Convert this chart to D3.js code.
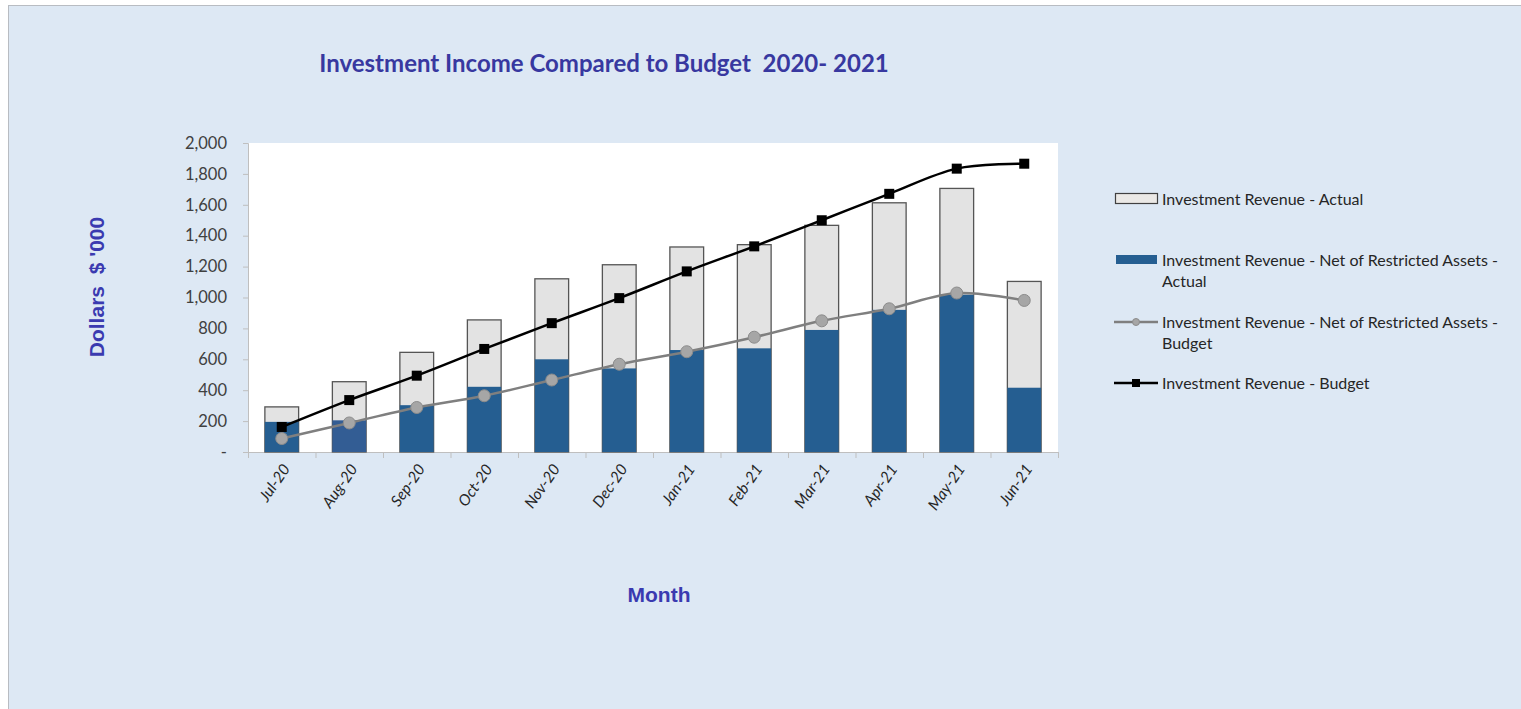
<!DOCTYPE html>
<html>
<head>
<meta charset="utf-8">
<script src="https://cdn.jsdelivr.net/npm/d3@7"></script>
<style>
	body { margin: 0; background: #ffffff; }
	text { font-family: Lato, "Open Sans", sans-serif; }
</style>
</head>
<body>
<div id="chart"></div>
<script>
// chart data
const months = ["Jul-20", "Aug-20", "Sep-20", "Oct-20", "Nov-20", "Dec-20",
	"Jan-21", "Feb-21", "Mar-21", "Apr-21", "May-21", "Jun-21"];
const revenueActual = [292, 455, 645, 855, 1121, 1212, 1327, 1342, 1467, 1613, 1706, 1104];
const netActual = [195, 205, 303, 422, 600, 541, 660, 671, 790, 920, 1018, 416];
const netBudget = [87, 188, 288, 364, 466, 568, 649, 743, 849, 927, 1029, 981];
const revenueBudget = [162, 336, 494, 667, 834, 996, 1169, 1331, 1500, 1671, 1834, 1866];
const yTicks = [0, 200, 400, 600, 800, 1000, 1200, 1400, 1600, 1800, 2000];
const legendLabels = [
	["Investment Revenue - Actual"],
	["Investment Revenue - Net of Restricted Assets -", "Actual"],
	["Investment Revenue - Net of Restricted Assets -", "Budget"],
	["Investment Revenue - Budget"]
];

const W = 1521, H = 709;
const plot = {left: 248, right: 1058, top: 143, bottom: 452};

let svg = d3.select("#chart").append("svg")
	.attr("width", W)
	.attr("height", H);

// background panel
svg.append("rect")
	.attr("x", 8.5).attr("y", 5.5)
	.attr("width", W + 10).attr("height", H + 10)
	.attr("fill", "#dde8f4")
	.attr("stroke", "#b8bcc2");

svg.append("rect")
	.attr("x", plot.left).attr("y", plot.top)
	.attr("width", plot.right - plot.left)
	.attr("height", plot.bottom - plot.top)
	.attr("fill", "#ffffff");

let xScale = d3.scaleBand()
	.domain(months)
	.range([plot.left, plot.right])
	.paddingInner(0.5)
	.paddingOuter(0.25);
let xBand = d3.scaleBand().domain(months).range([plot.left, plot.right]);
let yScale = d3.scaleLinear()
	.domain([0, 2000])
	.range([plot.bottom, plot.top]);

// y axis
let yAxis = d3.axisLeft(yScale)
	.tickValues(yTicks)
	.tickSize(5)
	.tickPadding(16)
	.tickFormat(d => d === 0 ? "-" : d3.format(",")(d));
let gy = svg.append("g")
	.attr("transform", `translate(${plot.left},0)`)
	.call(yAxis);
gy.select(".domain").attr("stroke", "#bfbfbf");
gy.selectAll(".tick line").attr("stroke", "#bfbfbf");
gy.selectAll(".tick text")
	.attr("fill", "#404040")
	.style("font-size", "16.5px")
	.style("font-family", "Lato, sans-serif");

// x axis - ticks at band edges
let edges = months.map(m => xBand(m)).concat([plot.right]);
svg.append("line")
	.attr("x1", plot.left).attr("x2", plot.right)
	.attr("y1", plot.bottom + 0.5).attr("y2", plot.bottom + 0.5)
	.attr("stroke", "#bfbfbf");
svg.append("g").selectAll("line")
	.data(edges)
	.join("line")
	.attr("x1", d => d + 0.5).attr("x2", d => d + 0.5)
	.attr("y1", plot.bottom).attr("y2", plot.bottom + 6)
	.attr("stroke", "#bfbfbf");

svg.append("g").selectAll("text")
	.data(months)
	.join("text")
	.text(d => d)
	.attr("transform", d => `translate(${xBand(d) + xBand.bandwidth() / 2 + 9},${plot.bottom + 17}) rotate(-55)`)
	.attr("text-anchor", "end")
	.attr("font-size", "15.5px")
	.attr("font-style", "italic")
	.attr("fill", "#262626");

// bars: total actual behind, net actual on top
svg.append("g").selectAll("rect")
	.data(revenueActual)
	.join("rect")
	.attr("x", (d, i) => xScale(months[i]))
	.attr("y", d => yScale(d))
	.attr("width", xScale.bandwidth())
	.attr("height", d => plot.bottom - yScale(d))
	.attr("fill", "#e3e3e3")
	.attr("stroke", "#555555")
	.attr("stroke-width", 1.3);

svg.append("g").selectAll("rect")
	.data(netActual)
	.join("rect")
	.attr("x", (d, i) => xScale(months[i]))
	.attr("y", d => yScale(d))
	.attr("width", xScale.bandwidth())
	.attr("height", d => plot.bottom - yScale(d))
	.attr("fill", (d, i) => i === 1 ? "#335d94" : "#255e91");

// lines
let cx = (d, i) => xBand(months[i]) + xBand.bandwidth() / 2;
let line = d3.line()
	.x(cx)
	.y(d => yScale(d))
	.curve(d3.curveCatmullRom.alpha(0.5));

svg.append("path")
	.datum(netBudget)
	.attr("d", line)
	.attr("fill", "none")
	.attr("stroke", "#7f7f7f")
	.attr("stroke-width", 2.5);
svg.append("g").selectAll("circle")
	.data(netBudget)
	.join("circle")
	.attr("cx", cx)
	.attr("cy", d => yScale(d))
	.attr("r", 6)
	.attr("fill", "#a6a6a6")
	.attr("stroke", "#8c8c8c")
	.attr("stroke-width", 1);

svg.append("path")
	.datum(revenueBudget)
	.attr("d", line)
	.attr("fill", "none")
	.attr("stroke", "#000000")
	.attr("stroke-width", 2.5);
svg.append("g").selectAll("rect")
	.data(revenueBudget)
	.join("rect")
	.attr("x", (d, i) => cx(d, i) - 5)
	.attr("y", d => yScale(d) - 5)
	.attr("width", 10)
	.attr("height", 10)
	.attr("fill", "#000000");

// titles
svg.append("text")
	.text("Investment Income Compared to Budget  2020- 2021")
	.attr("x", 604).attr("y", 72)
	.attr("text-anchor", "middle")
	.attr("font-size", "24px")
	.attr("font-weight", "bold")
	.attr("fill", "#3838a0")
	.style("white-space", "pre");

svg.append("text")
	.text("Dollars  $ '000")
	.attr("transform", "translate(104,287) rotate(-90)")
	.attr("text-anchor", "middle")
	.attr("font-size", "21px")
	.attr("font-weight", "bold")
	.attr("fill", "#3a3ab0")
	.style("font-family", "'Liberation Sans', Arial, sans-serif")
	.style("white-space", "pre");

svg.append("text")
	.text("Month")
	.attr("x", 659).attr("y", 602)
	.attr("text-anchor", "middle")
	.attr("font-size", "21px")
	.attr("font-weight", "bold")
	.attr("fill", "#3a3ab0")
	.style("font-family", "'Liberation Sans', Arial, sans-serif");

// legend
const legendY = [199, 260, 322, 383];
let legend = svg.append("g");
legendLabels.forEach((lines, i) => {
	let y = legendY[i];
	if (i === 0) {
		legend.append("rect").attr("x", 1115.5).attr("y", y - 5.5).attr("width", 42).attr("height", 10)
			.attr("fill", "#ebe9e6").attr("stroke", "#404040").attr("stroke-width", 1.2);
	} else if (i === 1) {
		legend.append("rect").attr("x", 1116).attr("y", y - 5).attr("width", 41).attr("height", 9)
			.attr("fill", "#255e91");
	} else if (i === 2) {
		legend.append("line").attr("x1", 1114).attr("x2", 1158).attr("y1", y).attr("y2", y)
			.attr("stroke", "#7f7f7f").attr("stroke-width", 2.5);
		legend.append("circle").attr("cx", 1136).attr("cy", y).attr("r", 3.5)
			.attr("fill", "#a6a6a6").attr("stroke", "#8c8c8c");
	} else {
		legend.append("line").attr("x1", 1114).attr("x2", 1158).attr("y1", y).attr("y2", y)
			.attr("stroke", "#000000").attr("stroke-width", 2.5);
		legend.append("rect").attr("x", 1132).attr("y", y - 4).attr("width", 8).attr("height", 8)
			.attr("fill", "#000000");
	}
	lines.forEach((t, j) => {
		legend.append("text")
			.text(t)
			.attr("x", 1162)
			.attr("y", y + 5.5 + j * 21)
			.attr("font-size", "16px")
			.attr("fill", "#262626");
	});
});
</script>
</body>
</html>
